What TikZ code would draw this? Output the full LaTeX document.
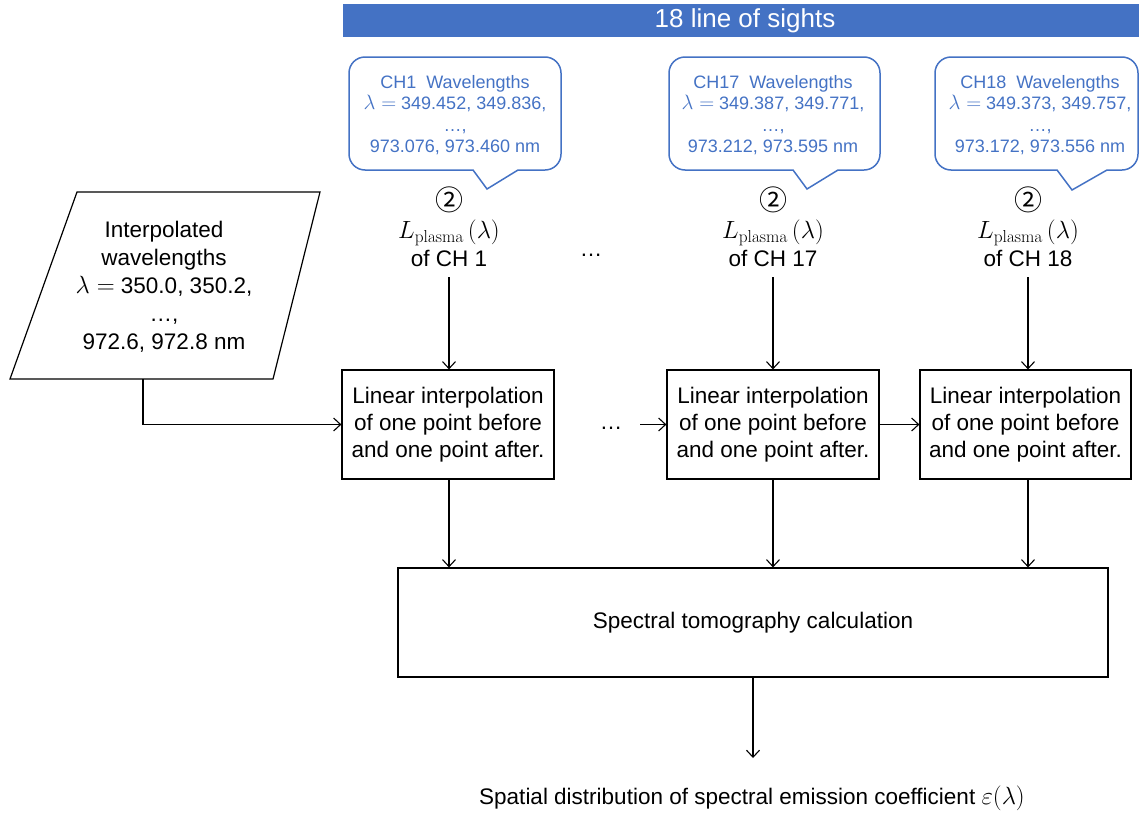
\documentclass[tikz,border=0pt]{standalone}
\usepackage[no-math]{fontspec}
\setmainfont{Liberation Sans}
\newfontfamily\symfont{Noto Sans CJK JP}
\usetikzlibrary{arrows.meta}
\definecolor{oblue}{HTML}{4472C4}
\newcommand\mymth[1]{{\fontsize{26}{28}\selectfont#1}}
\newcommand\mycirc{{\symfont\fontsize{28}{28}\selectfont ②}}
\begin{document}
\begin{tikzpicture}[x=1pt,y=-1pt,
  txt/.style={font=\fontsize{22.5}{28}\selectfont, align=center, inner sep=0pt},
  ctxt/.style={font=\fontsize{18}{21.5}\selectfont, align=center, text=oblue, inner sep=0pt},
  procbox/.style={draw, line width=1.2pt, minimum width=212pt, minimum height=109pt, align=center, font=\fontsize{22.5}{27}\selectfont, inner sep=0pt},
  cl/.style={draw=oblue, line width=1.5pt},
  arr/.style={draw, line width=1.1pt, -{Straight Barb[length=7pt,width=13pt]}}
]
\useasboundingbox (0,0) rectangle (1139,814);
% banner
\fill[oblue] (343,4) rectangle (1139,37);
\node[font=\fontsize{26}{30}\selectfont, text=white] (banner) at (745,21) {18 line of sights};
% callouts
\draw[cl] (518,170) [rounded corners=16] -- (561,170) -- (561,57) -- (349,57) -- (349,170) [sharp corners] -- (473,170) -- (487,189) -- cycle;
\node[ctxt] (c1) at (455,115) {CH1\ \ Wavelengths\\ {\fontsize{20}{21.5}\selectfont$\lambda=$} 349.452, 349.836,\\ \dots,\\ 973.076, 973.460 nm};
\draw[cl] (838,170) [rounded corners=16] -- (880,170) -- (880,57) -- (669,57) -- (669,170) [sharp corners] -- (793,170) -- (807,189) -- cycle;
\node[ctxt] (c17) at (773,115) {CH17\ \ Wavelengths\\ {\fontsize{20}{21.5}\selectfont$\lambda=$} 349.387, 349.771,\\ \dots,\\ 973.212, 973.595 nm};
\draw[cl] (1107,170) [rounded corners=16] -- (1138,170) -- (1138,57) -- (935,57) -- (935,170) [sharp corners] -- (1057,170) -- (1072,190) -- cycle;
\node[ctxt] (c18) at (1040,115) {CH18\ \ Wavelengths\\ {\fontsize{20}{21.5}\selectfont$\lambda=$} 349.373, 349.757,\\ \dots,\\ 973.172, 973.556 nm};
% labels
\node[txt] (l1) at (449,227) {\mycirc\\ \mymth{$L_{\mathrm{plasma}}\,(\lambda)$}\\ of CH 1};
\node[txt] (l17) at (773,227) {\mycirc\\ \mymth{$L_{\mathrm{plasma}}\,(\lambda)$}\\ of CH 17};
\node[txt] (l18) at (1028,227) {\mycirc\\ \mymth{$L_{\mathrm{plasma}}\,(\lambda)$}\\ of CH 18};
\node[txt] (d1) at (591,255) {\dots};
% boxes
\node[procbox] (b1) at (448,424.5) {Linear interpolation\\ of one point before\\ and one point after.};
\node[procbox] (b17) at (773,424.5) {Linear interpolation\\ of one point before\\ and one point after.};
\node[procbox, minimum width=211pt] (b18) at (1025.5,424.5) {Linear interpolation\\ of one point before\\ and one point after.};
\node[txt] (d2) at (611,428) {\dots};
\coordinate (a17) at (640,424.5);
% parallelogram
\draw[line width=1.2pt] (77,192) -- (320,192) -- (273,379) -- (10,379) -- cycle;
\node[txt] (par) at (164,287) {Interpolated\\ wavelengths\\ \mymth{$\lambda=$} 350.0, 350.2,\\ \dots,\\ 972.6, 972.8 nm};
\coordinate (pb) at (143,379);
% big box
\node[procbox, minimum width=710pt] (big) at (753,622.5) {Spectral tomography calculation};
\node[txt] (final) at (752,798) {Spatial distribution of spectral emission coefficient \mymth{$\varepsilon(\lambda)$}};
\coordinate (fe) at (753,758);
% connectors
\draw[arr] (l1.south |- 0,277) -- (l1.south |- b1.north);
\draw[arr] (l17.south |- 0,277) -- (l17.south |- b17.north);
\draw[arr] (l18.south |- 0,277) -- (l18.south |- b18.north);
\draw[arr] (pb) |- (b1.west);
\draw[arr] (a17) -- (b17.west);
\draw[arr] (b17.east) -- (b18.west);
\draw[arr] (l1.south |- b1.south) -- (l1.south |- big.north);
\draw[arr] (l17.south |- b17.south) -- (l17.south |- big.north);
\draw[arr] (l18.south |- b18.south) -- (l18.south |- big.north);
\draw[arr] (big.south) -- (fe);
\end{tikzpicture}
\end{document}
